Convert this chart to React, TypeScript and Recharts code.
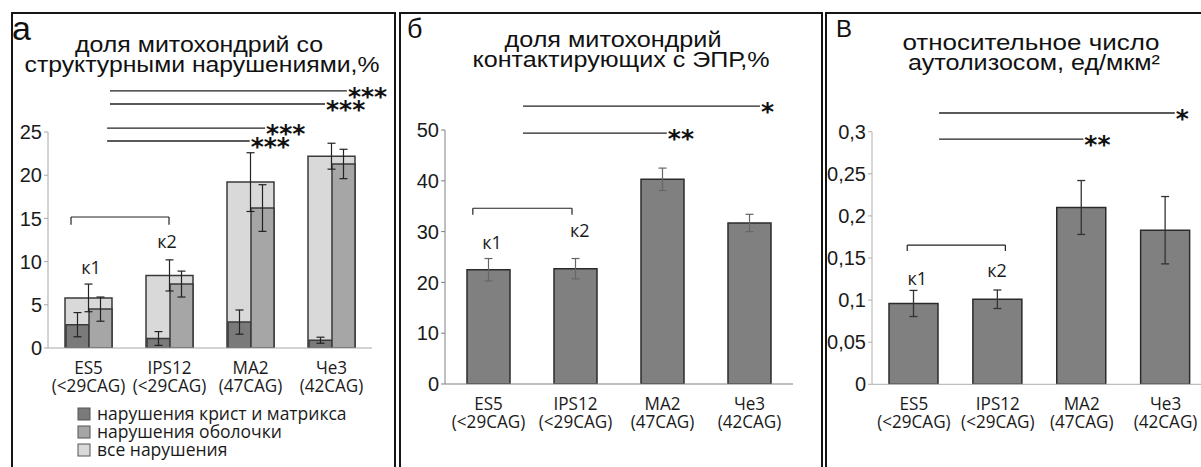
import React from 'react';
import { BarChart, Bar, XAxis, YAxis, ErrorBar, ReferenceLine, ReferenceDot } from 'recharts';

const categories = ['ES5', 'IPS12', 'MA2', 'Че3'];
const cagLabels = ['(<29CAG)', '(<29CAG)', '(47CAG)', '(42CAG)'];

// а: доля митохондрий со структурными нарушениями, %
const allDamage = [5.8, 8.4, 19.2, 22.2];
const allDamageErr = [1.6, 1.8, 3.4, 1.5];
const cristaeDamage = [2.7, 1.1, 3.0, 0.9];
const cristaeErr = [1.4, 0.8, 1.4, 0.35];
const membraneDamage = [4.5, 7.4, 16.2, 21.3];
const membraneErr = [1.4, 1.5, 2.7, 1.7];
const ticksA = [0, 5, 10, 15, 20, 25];

// б: доля митохондрий, контактирующих с ЭПР, %
const erContact = [22.5, 22.7, 40.3, 31.7];
const erContactErr = [2.2, 2.0, 2.2, 1.7];
const ticksB = [0, 10, 20, 30, 40, 50];

// в: относительное число аутолизосом
const autolysosomes = [0.096, 0.101, 0.21, 0.183];
const autolysosomesErr = [0.0155, 0.011, 0.032, 0.04];
const ticksC = [0, 0.05, 0.1, 0.15, 0.2, 0.25, 0.3];

// significance marks, x in category units (0..4) on a hidden numeric axis
const sigA = [
  { x1: 0.765, x2: 3.69, y: 29.75, text: '***' },
  { x1: 0.765, x2: 3.42, y: 28.24, text: '***' },
  { x1: 0.73, x2: 2.68, y: 25.46, text: '***' },
  { x1: 0.73, x2: 2.49, y: 23.96, text: '***' },
];
const bracketA = { x1: 0.284, x2: 1.494, y: 15.16, drop: 0.9 };
const kA = [{ x: 0.53, y: 9.4, text: 'к1' }, { x: 1.47, y: 12.4, text: 'к2' }];

const sigB = [
  { x1: 0.897, x2: 3.62, y: 54.7, text: '*' },
  { x1: 0.897, x2: 2.55, y: 49.4, text: '**' },
];
const bracketB = { x1: 0.32, x2: 1.46, y: 34.6, drop: 1.3 };
const kB = [{ x: 0.54, y: 28.0, text: 'к1' }, { x: 1.55, y: 30.3, text: 'к2' }];

const sigC = [
  { x1: 0.8, x2: 3.61, y: 0.3222, text: '*' },
  { x1: 0.8, x2: 2.52, y: 0.2913, text: '**' },
];
const bracketC = { x1: 0.42, x2: 1.59, y: 0.1654, drop: 0.0071 };
const kC = [{ x: 0.54, y: 0.1262, text: 'к1' }, { x: 1.49, y: 0.1358, text: 'к2' }];

const DARK = '#7a7a7a';
const MID = '#a6a6a6';
const LIGHT = '#d9d9d9';
const BAR = '#808080';
const EDGE = '#3a3a3a';

const legendA = [
  { name: 'нарушения крист и матрикса', color: DARK },
  { name: 'нарушения оболочки', color: MID },
  { name: 'все нарушения', color: LIGHT },
];

const dataA = categories.map((name, i) => ({
  name,
  pos: i + 0.5,
  all: allDamage[i],
  allErr: allDamageErr[i],
  cristae: cristaeDamage[i],
  cristaeErr: cristaeErr[i],
  membrane: membraneDamage[i],
  membraneErr: membraneErr[i],
}));
const dataB = categories.map((name, i) => ({ name, pos: i + 0.5, v: erContact[i], err: erContactErr[i] }));
const dataC = categories.map((name, i) => ({ name, pos: i + 0.5, v: autolysosomes[i], err: autolysosomesErr[i] }));

const arial = '"Liberation Sans", Arial, sans-serif';
const calibri = '"Open Sans", sans-serif';

function CategoryTick(props: any) {
  const { x, y, payload } = props;
  const i = categories.indexOf(payload.value);
  return (
    <g fontFamily={calibri} fontSize={19} fill="#1a1a1a" textAnchor="middle">
      <text transform={`translate(${x},${y + 24}) scale(0.9,1)`}>{payload.value}</text>
      <text transform={`translate(${x},${y + 42}) scale(0.9,1)`}>{cagLabels[i]}</text>
    </g>
  );
}

const EmptyTick = () => <g />;

function SigLabel(props: any) {
  const { viewBox, text } = props;
  if (!viewBox) return null;
  return (
    <text x={viewBox.x + viewBox.width + 1} y={viewBox.y + 14} fontFamily='"DejaVu Sans", sans-serif' fontWeight="bold" fontSize={25} fill="#111">
      {text}
    </text>
  );
}

function KLabel(props: any) {
  const { viewBox, text } = props;
  if (!viewBox) return null;
  return (
    <text x={viewBox.x + viewBox.width / 2} y={viewBox.y + viewBox.height / 2} dominantBaseline="central" textAnchor="middle" fontFamily={calibri} fontSize={18} fill="#1a1a1a">
      {text}
    </text>
  );
}

const comma = (v: number) => String(v).replace('.', ',');

function annotations(sig: any[], br: any, ks: any[], color: string) {
  const out: any[] = [];
  sig.forEach((s, i) => {
    out.push(
      <ReferenceLine key={'s' + i} xAxisId="num" ifOverflow="visible" stroke={color} strokeWidth={1.3}
        segment={[{ x: s.x1, y: s.y }, { x: s.x2, y: s.y }]} label={<SigLabel text={s.text} />} />
    );
  });
  out.push(
    <ReferenceLine key="b0" xAxisId="num" ifOverflow="visible" stroke={color} strokeWidth={1.2}
      segment={[{ x: br.x1, y: br.y }, { x: br.x2, y: br.y }]} />,
    <ReferenceLine key="b1" xAxisId="num" ifOverflow="visible" stroke={color} strokeWidth={1.2}
      segment={[{ x: br.x1, y: br.y }, { x: br.x1, y: br.y - br.drop }]} />,
    <ReferenceLine key="b2" xAxisId="num" ifOverflow="visible" stroke={color} strokeWidth={1.2}
      segment={[{ x: br.x2, y: br.y }, { x: br.x2, y: br.y - br.drop }]} />
  );
  ks.forEach((k, i) => {
    out.push(
      <ReferenceDot key={'k' + i} xAxisId="num" x={k.x} y={k.y} r={0} fill="none" stroke="none" ifOverflow="visible"
        label={<KLabel text={k.text} />} />
    );
  });
  return out;
}

const yTick = { fontFamily: arial, fontSize: 20, fill: '#1a1a1a' };
const numTicks = [0, 1, 2, 3, 4];

// category-boundary tick marks, as in the source spreadsheet charts
function boundaryAxis(color: string) {
  return (
    <XAxis xAxisId="num" dataKey="pos" type="number" domain={[0, 4]} ticks={numTicks} interval={0} allowDataOverflow
      height={0} tick={<EmptyTick />} tickSize={5} tickLine={{ stroke: color }} axisLine={false} />
  );
}

function PanelA() {
  return (
    <BarChart width={395} height={467} data={dataA} margin={{ top: 132, right: 23, bottom: 69, left: 8 }} barGap={0}>
      {boundaryAxis('#a8a8a8')}
      <XAxis xAxisId="cat" dataKey="name" height={50} interval={0} tick={<CategoryTick />} tickLine={false} tickSize={0} axisLine={{ stroke: '#a8a8a8' }} />
      <XAxis xAxisId="parts" dataKey="name" hide />
      <YAxis domain={[0, 25]} ticks={ticksA} interval={0} allowDataOverflow width={40} tickSize={4}
        tickLine={{ stroke: '#a8a8a8' }} axisLine={{ stroke: '#a8a8a8' }} tick={yTick} />
      <Bar xAxisId="cat" dataKey="all" barSize={47} fill={LIGHT} stroke={EDGE} strokeWidth={1.5} isAnimationActive={false}>
        <ErrorBar dataKey="allErr" width={4} stroke="#222" strokeWidth={1.2} />
      </Bar>
      <Bar xAxisId="parts" dataKey="cristae" barSize={23} fill={DARK} stroke={EDGE} strokeWidth={1.5} isAnimationActive={false}>
        <ErrorBar dataKey="cristaeErr" width={4} stroke="#222" strokeWidth={1.2} />
      </Bar>
      <Bar xAxisId="parts" dataKey="membrane" barSize={23} fill={MID} stroke={EDGE} strokeWidth={1.5} isAnimationActive={false}>
        <ErrorBar dataKey="membraneErr" width={4} stroke="#222" strokeWidth={1.2} />
      </Bar>
      {annotations(sigA, bracketA, kA, '#222')}
    </BarChart>
  );
}

function PanelB() {
  return (
    <BarChart width={422} height={467} data={dataB} margin={{ top: 130, right: 29, bottom: 33, left: 5 }}>
      {boundaryAxis('#808080')}
      <XAxis xAxisId="cat" dataKey="name" height={50} interval={0} tick={<CategoryTick />} tickLine={false} tickSize={0} axisLine={{ stroke: '#808080' }} />
      <YAxis domain={[0, 50]} ticks={ticksB} interval={0} allowDataOverflow width={40} tickSize={4}
        tickLine={{ stroke: '#808080' }} axisLine={{ stroke: '#808080' }} tick={yTick} />
      <Bar xAxisId="cat" dataKey="v" barSize={43} fill={BAR} stroke="#2b2b2b" strokeWidth={1.5} isAnimationActive={false}>
        <ErrorBar dataKey="err" width={4} stroke="#666" strokeWidth={1.2} />
      </Bar>
      {annotations(sigB, bracketB, kB, '#222')}
    </BarChart>
  );
}

function PanelC() {
  return (
    <BarChart width={385} height={467} data={dataC} margin={{ top: 131.7, right: 3.5, bottom: 32.7, left: 0 }}>
      {boundaryAxis('#b0b0b0')}
      <XAxis xAxisId="cat" dataKey="name" height={50} interval={0} tick={<CategoryTick />} tickLine={false} tickSize={0} axisLine={{ stroke: '#b0b0b0' }} />
      <YAxis domain={[0, 0.3]} ticks={ticksC} interval={0} allowDataOverflow width={46} tickSize={4}
        tickFormatter={comma} tickLine={{ stroke: '#b0b0b0' }} axisLine={{ stroke: '#b0b0b0' }} tick={yTick} />
      <Bar xAxisId="cat" dataKey="v" barSize={49} fill={BAR} stroke="#2b2b2b" strokeWidth={1.5} isAnimationActive={false}>
        <ErrorBar dataKey="err" width={4} stroke="#333" strokeWidth={1.3} />
      </Bar>
      {annotations(sigC, bracketC, kC, '#222')}
    </BarChart>
  );
}

function Overlay() {
  const title = (text: string, cx: number, y: number, len: number) => (
    <text x={cx - len / 2} y={y} textLength={len} lengthAdjust="spacingAndGlyphs" fontFamily={arial} fontSize={22} fill="#111">{text}</text>
  );
  return (
    <svg width={1201} height={467} style={{ position: 'absolute', left: 0, top: 0, pointerEvents: 'none' }}>
      <g stroke="#151515" strokeWidth={2} fill="none">
        <path d="M12 467 V13 H395 V467" />
        <path d="M400 467 V13 H822 V467" />
        <path d="M826 467 V13 H1203" />
      </g>
      <text x={12} y={40} fontFamily={arial} fontSize={34} fill="#111">а</text>
      <text x={407} y={38} fontFamily={arial} fontSize={27} fill="#111">б</text>
      <text x={836} y={37} fontFamily={arial} fontSize={24} fill="#111">В</text>
      {title('доля митохондрий со', 199, 52, 248)}
      {title('структурными нарушениями,%', 202, 72, 355)}
      {title('доля митохондрий', 613, 47, 217)}
      {title('контактирующих с ЭПР,%', 621, 67, 297)}
      {title('относительное число', 1031, 50, 257)}
      {title('аутолизосом, ед/мкм²', 1034, 70, 252)}
      {legendA.map((l, i) => (
        <g key={l.name}>
          <rect x={78} y={408 + i * 18} width={12} height={12} fill={l.color} stroke="#555" strokeWidth={1} />
          <text x={97} y={420 + i * 18} fontFamily={calibri} fontSize={17.5} fill="#1a1a1a">{l.name}</text>
        </g>
      ))}
    </svg>
  );
}

export default function App() {
  return (
    <div style={{ position: 'absolute', left: 0, top: 0, width: 1201, height: 467, overflow: 'hidden', background: '#fff' }}>
      <div style={{ position: 'absolute', left: 0, top: 0 }}><PanelA /></div>
      <div style={{ position: 'absolute', left: 400, top: 0 }}><PanelB /></div>
      <div style={{ position: 'absolute', left: 826, top: 0, width: 375, height: 467, overflow: 'hidden' }}><PanelC /></div>
      <Overlay />
    </div>
  );
}
